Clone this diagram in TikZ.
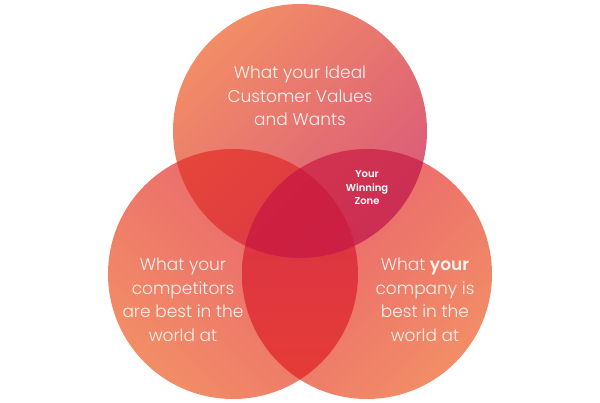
\documentclass[tikz,border=0pt]{standalone}
\usepackage{fontspec}
\setmainfont{Poppins}[UprightFont=* Light, BoldFont=* SemiBold]
\definecolor{orng}{HTML}{F28D66}
\definecolor{pnk}{HTML}{DA5A7A}
\definecolor{rse}{HTML}{E8606E}
\definecolor{redA}{HTML}{E6463A}
\definecolor{redB}{HTML}{D8304A}
\definecolor{magA}{HTML}{D2334F}
\definecolor{magB}{HTML}{C2285A}
\definecolor{lowA}{HTML}{D8324A}
\definecolor{lowB}{HTML}{E63C35}
\definecolor{midA}{HTML}{CE2040}
\definecolor{midB}{HTML}{C61E48}
\begin{document}
\begin{tikzpicture}[x=1pt,y=-1pt,
    label/.style={text=white,text opacity=0.9,align=center,font=\fontsize{17}{23.5}\selectfont},
    zone/.style={text=white,align=center,font=\bfseries\fontsize{10}{13.5}\selectfont}]
\useasboundingbox (0,0) rectangle (600,403);
\coordinate (ideal) at (300,131);
\coordinate (rivals) at (233,274);
\coordinate (ours) at (367,274);
% the three circles
\shade[left color=orng,right color=pnk,shading angle=45] (ideal) circle (127pt);
\shade[left color=orng,right color=rse,shading angle=135] (rivals) circle (125pt);
\shade[left color=rse,right color=orng,shading angle=45] (ours) circle (125pt);
% overlaps
\begin{scope}
    \clip (ideal) circle (127pt);
    \shade[left color=redA,right color=redB,shading angle=45] (rivals) circle (125pt);
\end{scope}
\begin{scope}
    \clip (ideal) circle (127pt);
    \shade[left color=magA,right color=magB,shading angle=45] (ours) circle (125pt);
\end{scope}
\begin{scope}
    \clip (rivals) circle (125pt);
    \shade[top color=lowA,bottom color=lowB] (ours) circle (125pt);
\end{scope}
\begin{scope}
    \clip (ideal) circle (127pt);
    \clip (rivals) circle (125pt);
    \shade[left color=midA,right color=midB,shading angle=45] (ours) circle (125pt);
\end{scope}
% texts
\node[label] (idealtxt) at (300,96) {What your Ideal\\Customer Values\\and Wants};
\node[label] (rivalstxt) at (183,300) {What your\\competitors\\are best in the\\world at};
\node[label] (ourstxt) at (425,300) {What \textbf{your}\\company is\\best in the\\world at};
\node[zone] (winzone) at (367,188) {Your\\Winning\\Zone};
\end{tikzpicture}
\end{document}
